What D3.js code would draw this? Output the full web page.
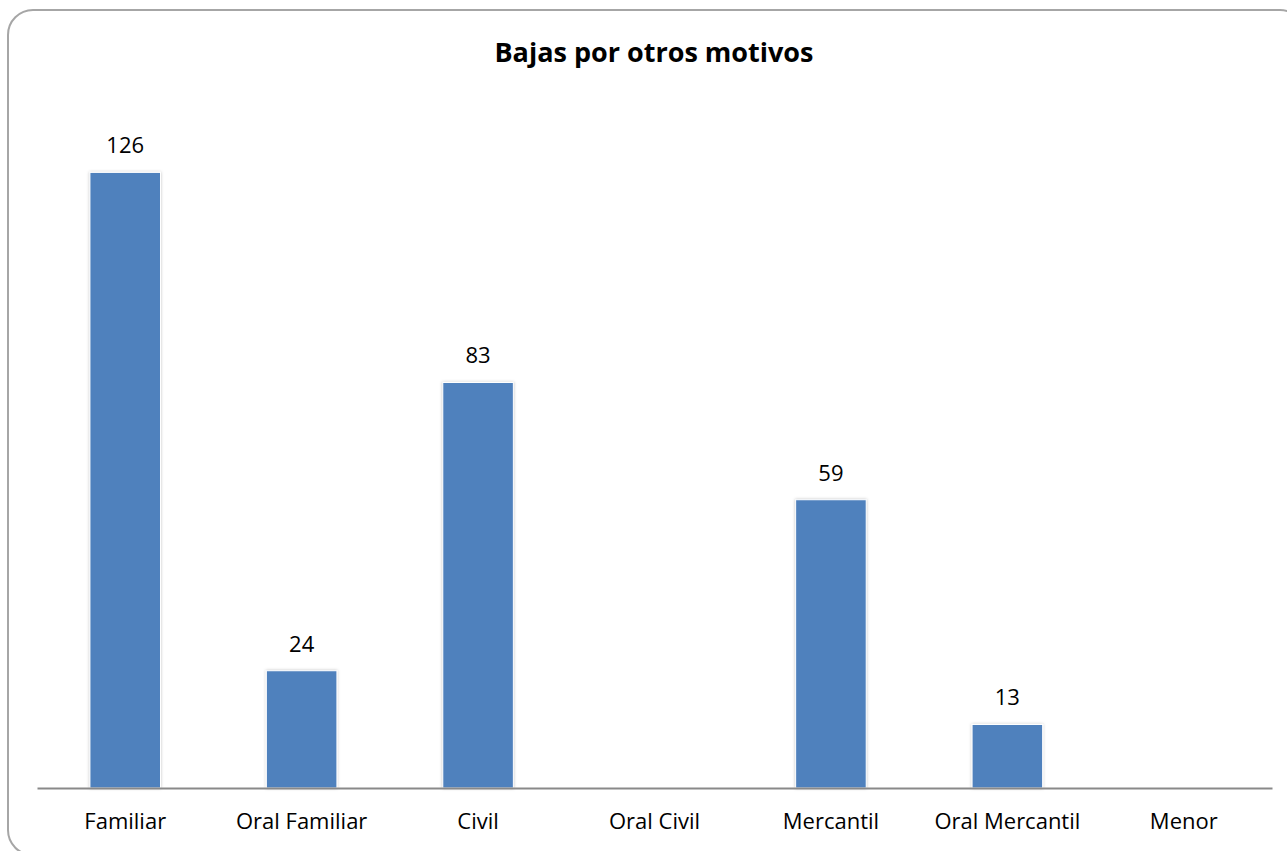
<!DOCTYPE html>
<html>
<head>
<meta charset="utf-8">
<script src="https://d3js.org/d3.v7.min.js"></script>
<style>
  body { margin: 0; background: #fff; overflow: hidden; }
  text { font-family: "Open Sans", "Noto Sans", sans-serif; fill: #000; }
</style>
</head>
<body>
<script>
var categories = ["Familiar", "Oral Familiar", "Civil", "Oral Civil", "Mercantil", "Oral Mercantil", "Menor"];
var values = [126, 24, 83, null, 59, 13, null];
var title = "Bajas por otros motivos";

var width = 1287, height = 851;
var margin = {left: 37, right: 15, top: 104, bottom: 63};

var svg = d3.select("body").append("svg")
    .attr("width", width)
    .attr("height", height)
    .style("display", "block");

var defs = svg.append("defs");
var f = defs.append("filter").attr("id", "shadow")
    .attr("x", "-20%").attr("y", "-5%").attr("width", "140%").attr("height", "110%");
f.append("feDropShadow").attr("dx", 0).attr("dy", 0).attr("stdDeviation", 1.5)
    .attr("flood-color", "#000").attr("flood-opacity", 0.25);

// chart frame (runs past the right and bottom edges of the picture)
svg.append("rect")
    .attr("x", 8).attr("y", 10)
    .attr("width", 1297).attr("height", 845)
    .attr("rx", 25).attr("ry", 25)
    .attr("fill", "none")
    .attr("stroke", "#a6a6a6")
    .attr("stroke-width", 2);

svg.append("text")
    .attr("x", 654).attr("y", 62)
    .attr("text-anchor", "middle")
    .style("font-size", "27px")
    .style("font-weight", "bold")
    .text(title);

var x = d3.scaleBand()
    .domain(categories)
    .range([margin.left, width - margin.right])
    .paddingInner(0.6)
    .paddingOuter(0.3);

var y = d3.scaleLinear()
    .domain([0, 140])
    .range([height - margin.bottom, margin.top]);

var data = categories.map(function(c, i) { return {cat: c, val: values[i]}; });
var withVal = data.filter(function(d) { return d.val != null; });

svg.append("g")
    .selectAll("rect")
    .data(withVal)
    .enter().append("rect")
    .attr("x", function(d) { return x(d.cat); })
    .attr("y", function(d) { return y(d.val); })
    .attr("width", x.bandwidth())
    .attr("height", function(d) { return y(0) - y(d.val); })
    .attr("fill", "#4f81bd")
    .attr("stroke", "#fff")
    .attr("stroke-width", 1)
    .attr("filter", "url(#shadow)");

svg.append("g")
    .selectAll("text")
    .data(withVal)
    .enter().append("text")
    .attr("x", function(d) { return x(d.cat) + x.bandwidth() / 2; })
    .attr("y", function(d) { return y(d.val) - 19; })
    .attr("text-anchor", "middle")
    .style("font-size", "22px")
    .text(function(d) { return d.val; });

var xAxis = svg.append("g")
    .attr("transform", "translate(0," + y(0) + ")")
    .call(d3.axisBottom(x).tickSize(0).tickPadding(25));
xAxis.select(".domain").attr("stroke", "#898989").attr("stroke-width", 2);
xAxis.selectAll("text")
    .style("font-size", "22px")
    .style("font-family", "'Open Sans', 'Noto Sans', sans-serif")
    .attr("fill", "#000");
</script>
</body>
</html>
